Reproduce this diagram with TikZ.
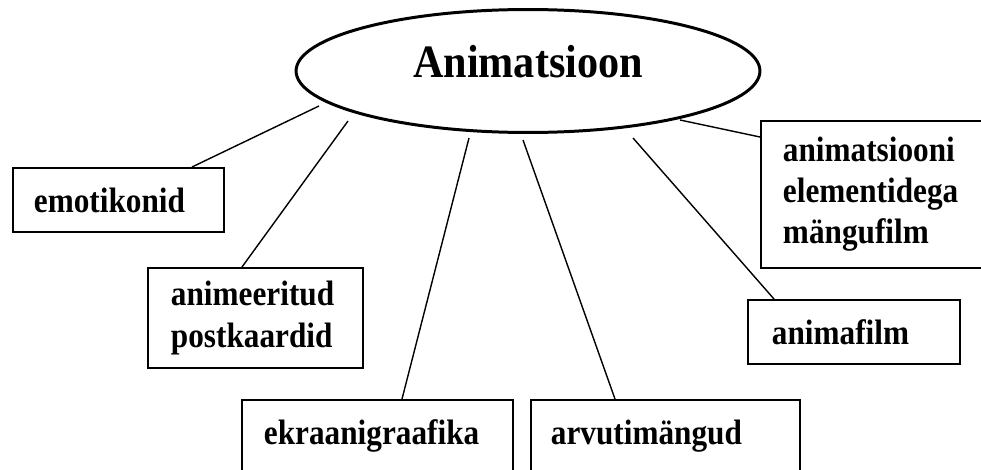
\documentclass[tikz,border=0pt]{standalone}
\usepackage{fontspec}
\setmainfont{Liberation Serif}
\newfontfamily\titlefont[FakeStretch=0.91]{Liberation Serif}
\newfontfamily\boxfont[FakeStretch=0.885]{Liberation Serif}
\usetikzlibrary{calc,shapes.geometric}

\begin{document}
\begin{tikzpicture}[x=0.02cm,y=-0.02cm]
    %positions are given in pixels of the picture, y grows downwards
    \useasboundingbox (0,0) rectangle (981,470);

    \node [ellipse, draw, line width=1.7pt, minimum width=9.28cm, minimum height=2.46cm,
           inner sep=0pt, text depth=10.5pt, font=\titlefont\bfseries\fontsize{26.4}{30}\selectfont] (anim) at (528,71) {Animatsioon};

    \begin{scope}[every node/.style={draw, line width=1.1pt, anchor=north west, align=left,
                  inner ysep=0pt, font=\boxfont\bfseries\fontsize{20.1}{23.4}\selectfont}]
        \node [text width=3.38cm, inner xsep=0.42cm, minimum height=1.28cm] (emo) at (12,167) {emotikonid};
        \node [text width=3.38cm, inner xsep=0.46cm, minimum height=2.0cm] (post) at (147,267) {animeeritud\\postkaardid};
        \node [text width=4.54cm, inner xsep=0.44cm, minimum height=1.44cm] (ekraan) at (241,399) {ekraanigraafika};
        \node [text width=4.58cm, inner xsep=0.40cm, minimum height=1.44cm] (arvuti) at (530,399) {arvutimängud};
        \node [text width=3.28cm, inner xsep=0.48cm, minimum height=1.28cm] (film) at (747,299) {animafilm};
        \node [text width=3.92cm, inner xsep=0.44cm, minimum height=2.94cm] (mangu) at (760,120) {animatsiooni\\elementidega\\mängufilm};
    \end{scope}

    \coordinate (e1) at (319,106);
    \coordinate (e2) at (348,121);
    \coordinate (e3) at (469,138);
    \coordinate (e4) at (523,140);
    \coordinate (e5) at (633,138);
    \coordinate (e6) at (680,120);

    \begin{scope}[every edge/.style={draw=black, line width=0.8pt}]
        \path ($(emo.north west)+(180,0)$) edge (e1);
        \path ($(post.north west)+(95,0)$) edge (e2);
        \path ($(ekraan.north west)+(161,0)$) edge (e3);
        \path ($(arvuti.north west)+(85,0)$) edge (e4);
        \path ($(film.north west)+(27,0)$) edge (e5);
        \path ($(mangu.north west)+(0,17)$) edge (e6);
    \end{scope}

\end{tikzpicture}
\end{document}
